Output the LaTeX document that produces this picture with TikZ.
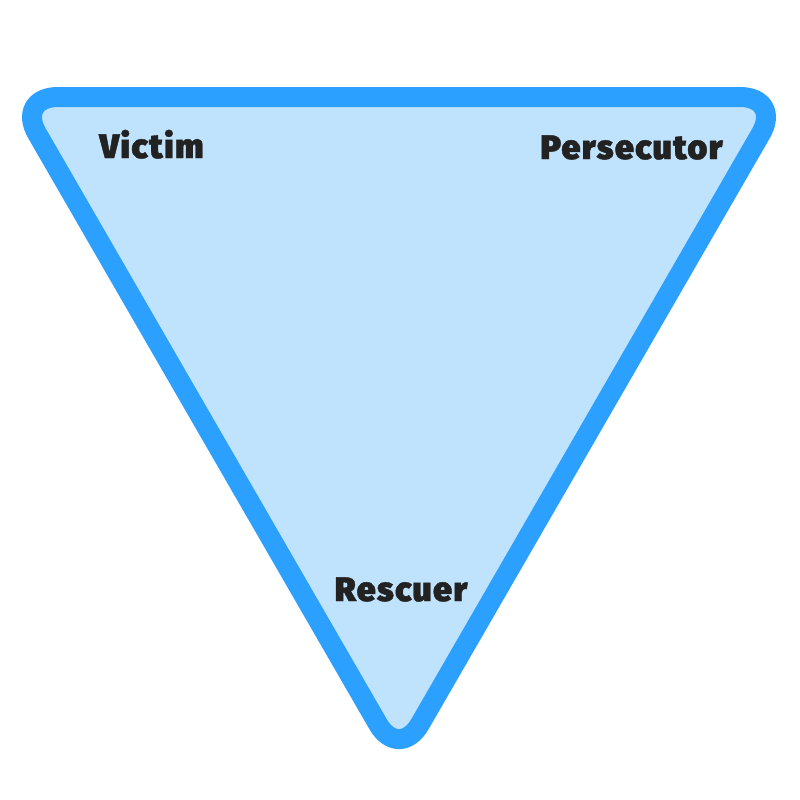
\documentclass[tikz,border=0pt]{standalone}
\usepackage{fontspec}
\newfontfamily\labfont{Fira Sans Black}[LetterSpace=4,FakeBold=1.2]
\definecolor{edgeblue}{RGB}{44,160,255}
\definecolor{fillblue}{RGB}{192,227,253}
\definecolor{txt}{RGB}{34,34,34}
\begin{document}
\begin{tikzpicture}[x=1pt,y=-1pt,
  lab/.style={anchor=base,inner sep=0pt,text=txt,font=\labfont\fontsize{34}{34}\selectfont}]
\useasboundingbox (0,0) rectangle (800,800);
\draw[line width=20pt,draw=edgeblue,fill=fillblue,line join=round,rounded corners=42pt]
  (16,97) -- (782,97) -- (399,760.4) -- cycle;
\node[lab] (victim) at (151.5,158) {Victim};
\node[lab] (persecutor) at (631.5,159) {Persecutor};
\node[lab] (rescuer) at (401,601) {Rescuer};
\end{tikzpicture}
\end{document}
